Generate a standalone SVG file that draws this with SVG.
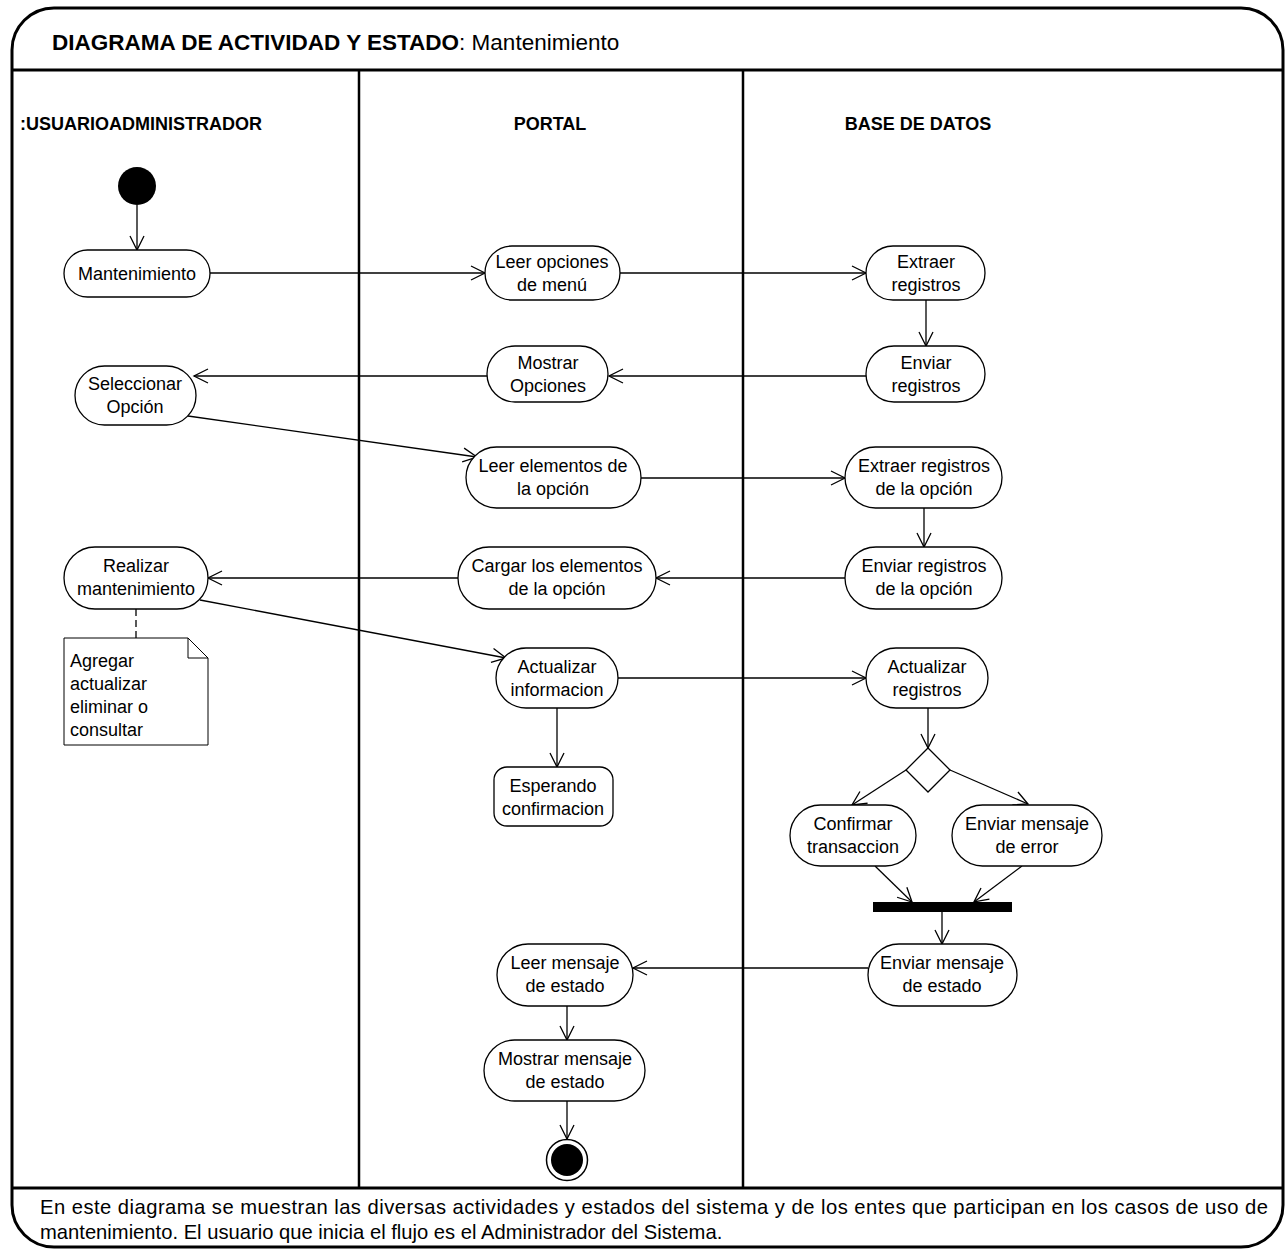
<svg xmlns="http://www.w3.org/2000/svg" width="1286" height="1252" viewBox="0 0 1286 1252">
<style>
text{font-family:"Liberation Sans",Arial,sans-serif;fill:#000}
.t{font-size:18px;text-anchor:middle}
.n{fill:#fff;stroke:#000;stroke-width:1.3}
.c{fill:none;stroke:#000;stroke-width:1.3;marker-end:url(#a)}
.lane{font-size:18px;font-weight:bold}
.nt{font-size:18px}
.foot{font-size:20.2px}
</style>
<defs>
<marker id="a" markerUnits="userSpaceOnUse" markerWidth="20" markerHeight="20" refX="15" refY="8" orient="auto">
<path d="M1,1 L15,8 L1,15" fill="none" stroke="#000" stroke-width="1.3"/>
</marker>
</defs>
<rect width="1286" height="1252" fill="#fff"/>
<g id="frame">
<rect x="12" y="8" width="1271" height="1239" rx="42" ry="42" fill="none" stroke="#000" stroke-width="3"/>
<line x1="12" y1="70" x2="1283" y2="70" stroke="#000" stroke-width="3"/>
<line x1="12" y1="1188" x2="1283" y2="1188" stroke="#000" stroke-width="3"/>
<line x1="359" y1="70" x2="359" y2="1188" stroke="#000" stroke-width="2.5"/>
<line x1="743" y1="70" x2="743" y2="1188" stroke="#000" stroke-width="2.5"/>
<text x="52" y="50" style="font-size:22.5px"><tspan font-weight="bold">DIAGRAMA DE ACTIVIDAD Y ESTADO</tspan>: Mantenimiento</text>
<text x="20" y="130" class="lane">:USUARIOADMINISTRADOR</text>
<text x="550" y="130" class="lane" text-anchor="middle">PORTAL</text>
<text x="918" y="130" class="lane" text-anchor="middle">BASE DE DATOS</text>
<text x="40" y="1214" class="foot" textLength="1228" lengthAdjust="spacing">En este diagrama se muestran las diversas actividades y estados del sistema y de los entes que participan en los casos de uso de</text>
<text x="40" y="1239" class="foot">mantenimiento. El usuario que inicia el flujo es el Administrador del Sistema.</text>
</g>
<g id="connectors">
<line class="c" x1="137" y1="205" x2="137" y2="250"/>
<line class="c" x1="210" y1="273" x2="485" y2="273"/>
<line class="c" x1="620" y1="273" x2="866" y2="273"/>
<line class="c" x1="926" y1="300" x2="926" y2="346"/>
<line class="c" x1="866" y1="376" x2="609" y2="376"/>
<line class="c" x1="487" y1="376" x2="194" y2="376"/>
<line class="c" x1="188" y1="416" x2="477" y2="457"/>
<line class="c" x1="641" y1="478" x2="845" y2="478"/>
<line class="c" x1="924" y1="508" x2="924" y2="547"/>
<line class="c" x1="845" y1="578" x2="656" y2="578"/>
<line class="c" x1="458" y1="578" x2="208" y2="578"/>
<line class="c" x1="200" y1="600" x2="506" y2="658"/>
<line class="c" x1="618" y1="678" x2="866" y2="678"/>
<line class="c" x1="557" y1="708" x2="557" y2="767"/>
<line class="c" x1="928" y1="708" x2="928" y2="748"/>
<line class="c" x1="906" y1="770" x2="852" y2="805"/>
<line class="c" x1="950" y1="770" x2="1028" y2="804"/>
<line class="c" x1="875" y1="866" x2="912" y2="902"/>
<line class="c" x1="1022" y1="866" x2="974" y2="902"/>
<line class="c" x1="942" y1="912" x2="942" y2="944"/>
<line class="c" x1="868" y1="968" x2="633" y2="968"/>
<line class="c" x1="567" y1="1006" x2="567" y2="1040"/>
<line class="c" x1="567" y1="1101" x2="567" y2="1139"/>
<line x1="136" y1="609" x2="136" y2="638" stroke="#000" stroke-width="1.3" stroke-dasharray="7,4"/>
</g>
<g id="initial"><circle cx="137" cy="186" r="19" fill="#000"/></g>
<g id="mantenimiento"><rect class="n" x="64" y="250" width="146" height="47" rx="23.5"/><text class="t" x="137" y="280">Mantenimiento</text></g>
<g id="leer-opciones"><rect class="n" x="485" y="246" width="135" height="54" rx="27"/><text class="t" x="552" y="268">Leer opciones</text><text class="t" x="552" y="291">de menú</text></g>
<g id="extraer-registros"><rect class="n" x="866" y="246" width="119" height="54" rx="27"/><text class="t" x="926" y="268">Extraer</text><text class="t" x="926" y="291">registros</text></g>
<g id="enviar-registros"><rect class="n" x="866" y="346" width="119" height="56" rx="28"/><text class="t" x="926" y="369">Enviar</text><text class="t" x="926" y="392">registros</text></g>
<g id="mostrar-opciones"><rect class="n" x="487" y="346" width="121" height="56" rx="28"/><text class="t" x="548" y="369">Mostrar</text><text class="t" x="548" y="392">Opciones</text></g>
<g id="seleccionar"><rect class="n" x="75" y="366" width="121" height="59" rx="29.5"/><text class="t" x="135" y="390">Seleccionar</text><text class="t" x="135" y="413">Opción</text></g>
<g id="leer-elementos"><rect class="n" x="466" y="447" width="175" height="61" rx="30.5"/><text class="t" x="553" y="472">Leer elementos de</text><text class="t" x="553" y="495">la opción</text></g>
<g id="extraer-opcion"><rect class="n" x="845" y="447" width="157" height="61" rx="30.5"/><text class="t" x="924" y="472">Extraer registros</text><text class="t" x="924" y="495">de la opción</text></g>
<g id="enviar-opcion"><rect class="n" x="845" y="547" width="157" height="62" rx="31"/><text class="t" x="924" y="572">Enviar registros</text><text class="t" x="924" y="595">de la opción</text></g>
<g id="cargar"><rect class="n" x="458" y="547" width="198" height="62" rx="31"/><text class="t" x="557" y="572">Cargar los elementos</text><text class="t" x="557" y="595">de la opción</text></g>
<g id="realizar"><rect class="n" x="64" y="547" width="144" height="62" rx="31"/><text class="t" x="136" y="572">Realizar</text><text class="t" x="136" y="595">mantenimiento</text></g>
<g id="nota">
<path d="M64,638 H188 L208,658 V745 H64 Z" fill="#fff" stroke="#000" stroke-width="1"/>
<path d="M188,638 V658 H208" fill="none" stroke="#000" stroke-width="1"/>
<text x="70" y="667" class="nt">Agregar</text>
<text x="70" y="690" class="nt">actualizar</text>
<text x="70" y="713" class="nt">eliminar o</text>
<text x="70" y="736" class="nt">consultar</text>
</g>
<g id="actualizar-info"><rect class="n" x="496" y="648" width="122" height="60" rx="30"/><text class="t" x="557" y="673">Actualizar</text><text class="t" x="557" y="696">informacion</text></g>
<g id="actualizar-reg"><rect class="n" x="866" y="648" width="122" height="60" rx="30"/><text class="t" x="927" y="673">Actualizar</text><text class="t" x="927" y="696">registros</text></g>
<g id="esperando"><rect class="n" x="494" y="767" width="119" height="59" rx="13"/><text class="t" x="553" y="792">Esperando</text><text class="t" x="553" y="815">confirmacion</text></g>
<g id="decision"><path d="M928,748 L950,770 L928,792 L906,770 Z" class="n"/></g>
<g id="confirmar"><rect class="n" x="790" y="805" width="126" height="61" rx="30.5"/><text class="t" x="853" y="830">Confirmar</text><text class="t" x="853" y="853">transaccion</text></g>
<g id="enviar-error"><rect class="n" x="952" y="805" width="150" height="61" rx="30.5"/><text class="t" x="1027" y="830">Enviar mensaje</text><text class="t" x="1027" y="853">de error</text></g>
<g id="join"><rect x="873" y="902" width="139" height="10" fill="#000"/></g>
<g id="enviar-estado"><rect class="n" x="868" y="944" width="149" height="62" rx="31"/><text class="t" x="942" y="969">Enviar mensaje</text><text class="t" x="942" y="992">de estado</text></g>
<g id="leer-estado"><rect class="n" x="497" y="944" width="136" height="62" rx="31"/><text class="t" x="565" y="969">Leer mensaje</text><text class="t" x="565" y="992">de estado</text></g>
<g id="mostrar-estado"><rect class="n" x="484" y="1040" width="161" height="61" rx="30.5"/><text class="t" x="565" y="1065">Mostrar mensaje</text><text class="t" x="565" y="1088">de estado</text></g>
<g id="final"><circle cx="567" cy="1160" r="20.5" fill="#fff" stroke="#000" stroke-width="1.5"/><circle cx="567" cy="1160" r="16" fill="#000"/></g>
</svg>
